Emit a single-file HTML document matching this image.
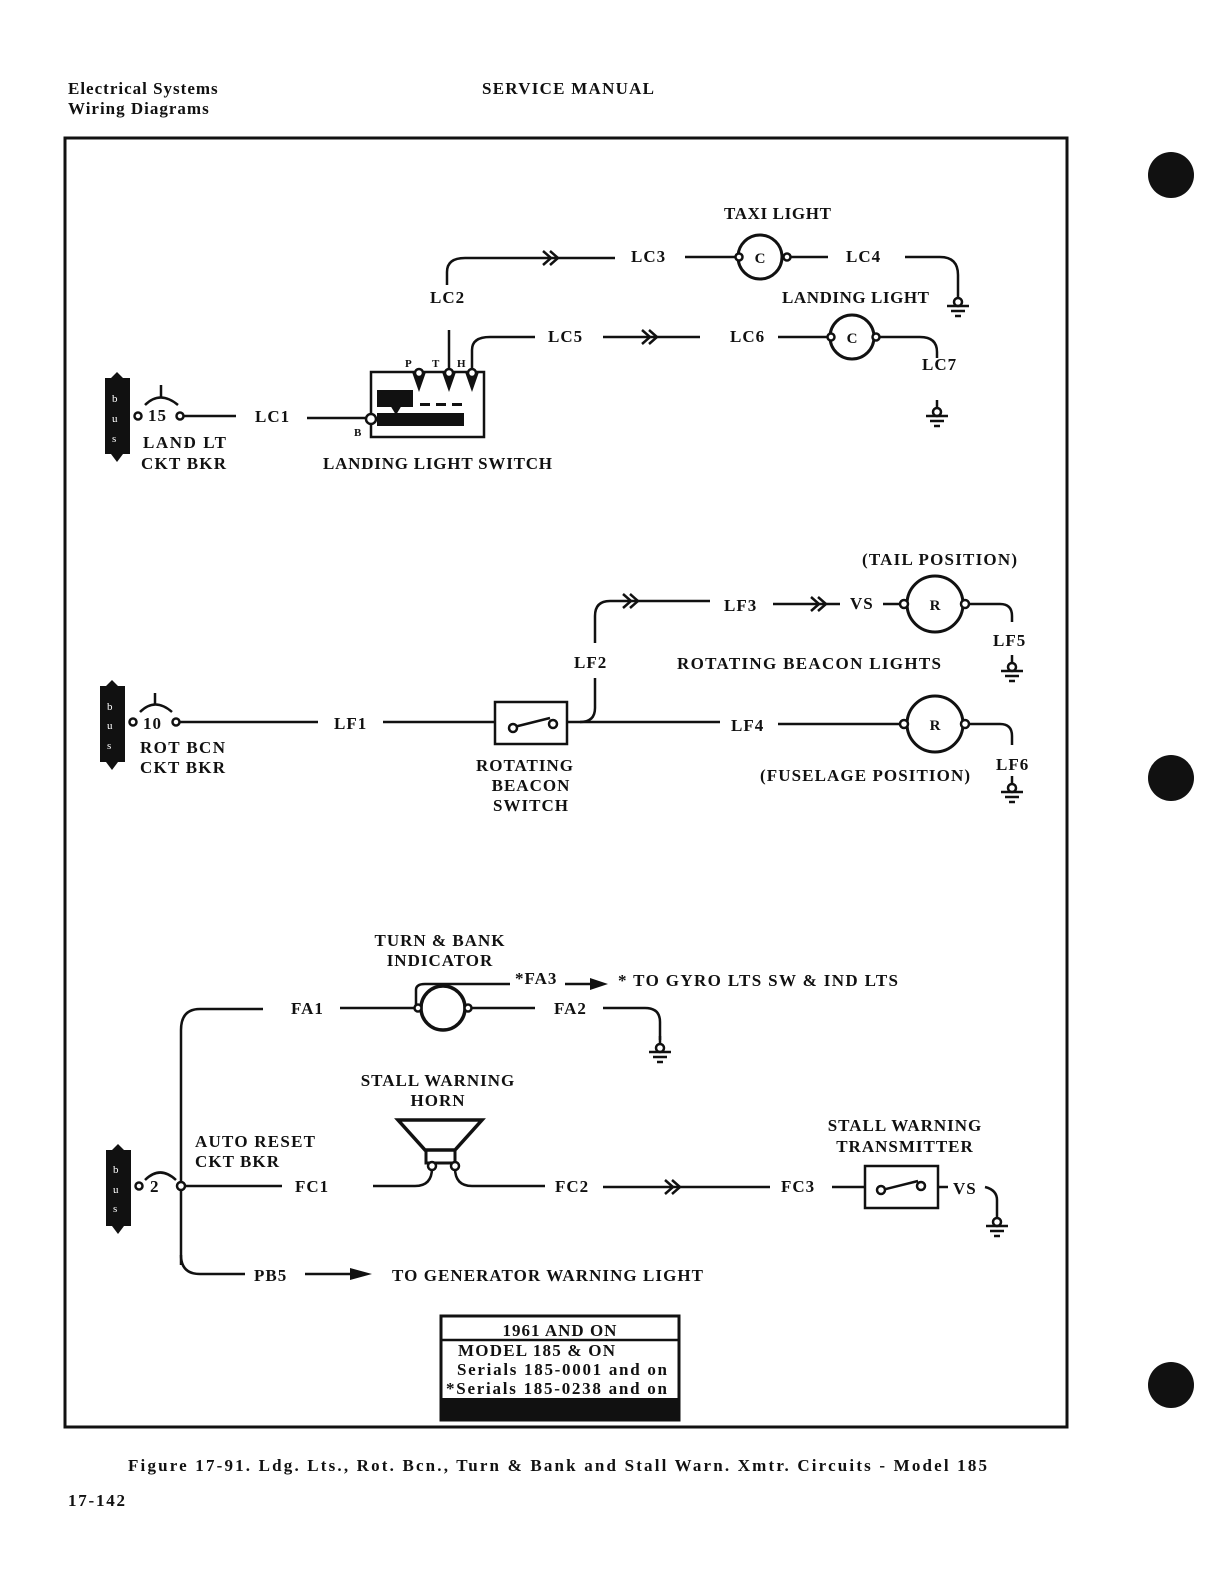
<!DOCTYPE html>
<html><head><meta charset="utf-8"><style>
html,body{margin:0;padding:0;background:#fff}
svg{display:block}
text{font-family:"Liberation Serif",serif;font-weight:bold;font-size:17px;fill:#111;letter-spacing:1px}
</style></head><body>
<svg width="1226" height="1580" viewBox="0 0 1226 1580" xmlns="http://www.w3.org/2000/svg">
<defs>
<g id="gnd" stroke="#111" stroke-width="2.5" fill="none">
<line x1="0" y1="0" x2="0" y2="8"/><circle cx="0" cy="12" r="4" fill="#fff"/>
<line x1="-11" y1="16" x2="11" y2="16"/><line x1="-7" y1="21" x2="7" y2="21"/><line x1="-3" y1="26" x2="3" y2="26"/>
</g>
<g id="dbl" stroke="#111" stroke-width="2.5" fill="none">
<polyline points="-10,-7 -2,0 -10,7"/><polyline points="-3,-7 5,0 -3,7"/>
</g>
<g id="bus">
<path d="M0,6 L6,6 L12,0 L18,6 L25,6 L25,82 L18,82 L12,90 L6,82 L0,82 Z" fill="#111"/>
</g>
</defs>
<g fill="none" stroke="#111" stroke-width="2.5">
<rect x="65" y="138" width="1002" height="1289" stroke-width="3"/>
</g>
<circle cx="1171" cy="175" r="23" fill="#111"/>
<circle cx="1171" cy="778" r="23" fill="#111"/>
<circle cx="1171" cy="1385" r="23" fill="#111"/>
<text x="68" y="94">Electrical Systems</text>
<text x="68" y="114">Wiring Diagrams</text>
<text x="482" y="94" textLength="173">SERVICE MANUAL</text>

<!-- TOP SECTION -->
<use href="#bus" x="105" y="372"/>
<text x="112" y="402" style="fill:#fff;font-size:11px;font-weight:normal">b</text>
<text x="112" y="422" style="fill:#fff;font-size:11px;font-weight:normal">u</text>
<text x="112" y="442" style="fill:#fff;font-size:11px;font-weight:normal">s</text>
<g fill="none" stroke="#111" stroke-width="2.5">
<path d="M145,405 Q160,390 178,405"/><line x1="161" y1="385" x2="161" y2="397"/>
<circle cx="138" cy="416" r="3.5" fill="#fff"/><circle cx="180" cy="416" r="3.5" fill="#fff"/>
<line x1="184" y1="416" x2="236" y2="416"/>
<line x1="307" y1="418" x2="366" y2="418"/>
<rect x="371" y="372" width="113" height="65"/>
<line x1="449" y1="330" x2="449" y2="372"/>
<path d="M472,372 L472,350 Q472,337 490,337 L535,337"/>
<path d="M447,285 L447,272 Q447,258 465,258 L615,258"/>
<line x1="685" y1="257" x2="738" y2="257"/>
<circle cx="760" cy="257" r="22" stroke-width="3"/>
<line x1="785" y1="257" x2="828" y2="257"/>
<path d="M905,257 L940,257 Q958,257 958,275 L958,290"/>
<line x1="603" y1="337" x2="700" y2="337"/>
<line x1="778" y1="337" x2="830" y2="337"/>
<circle cx="852" cy="337" r="22" stroke-width="3"/>
<path d="M877,337 L920,337 Q937,337 937,352 L937,358"/>
</g>
<g fill="#111">
<rect x="377" y="390" width="36" height="17"/>
<polygon points="390,405 402,405 396,415"/>
<rect x="377" y="413" width="87" height="13"/>
<polygon points="412,372 426,372 419,392"/><polygon points="442,372 456,372 449,392"/><polygon points="465,372 479,372 472,392"/>
<rect x="420" y="403" width="10" height="3"/><rect x="436" y="403" width="10" height="3"/><rect x="452" y="403" width="10" height="3"/>
</g>
<g fill="#fff" stroke="#111" stroke-width="2.5">
<circle cx="419" cy="373" r="4"/><circle cx="449" cy="373" r="4"/><circle cx="472" cy="373" r="4"/><circle cx="371" cy="419" r="5"/>
<circle cx="739" cy="257" r="3.5"/><circle cx="787" cy="257" r="3.5"/><circle cx="831" cy="337" r="3.5"/><circle cx="876" cy="337" r="3.5"/>
</g>
<text x="760" y="263" text-anchor="middle" style="font-size:15px;letter-spacing:0">C</text>
<text x="852" y="343" text-anchor="middle" style="font-size:15px;letter-spacing:0">C</text>
<use href="#dbl" x="553" y="258"/><use href="#dbl" x="652" y="337"/>
<use href="#gnd" x="958" y="290"/><use href="#gnd" x="937" y="400"/>
<text x="148" y="421">15</text>
<text x="255" y="422">LC1</text>
<text x="354" y="436" style="font-size:11px">B</text>
<text x="405" y="367" style="font-size:11px">P</text><text x="432" y="367" style="font-size:11px">T</text><text x="457" y="367" style="font-size:11px">H</text>
<text x="430" y="303">LC2</text>
<text x="631" y="262">LC3</text>
<text x="846" y="262">LC4</text>
<text x="724" y="219" textLength="108">TAXI LIGHT</text>
<text x="782" y="303" textLength="148">LANDING LIGHT</text>
<text x="548" y="342">LC5</text>
<text x="730" y="342">LC6</text>
<text x="922" y="370">LC7</text>
<text x="143" y="448" textLength="84">LAND LT</text>
<text x="141" y="469" textLength="86">CKT BKR</text>
<text x="323" y="469" textLength="230">LANDING LIGHT SWITCH</text>

<!-- MIDDLE SECTION -->
<use href="#bus" x="100" y="680"/>
<text x="107" y="710" style="fill:#fff;font-size:11px;font-weight:normal">b</text>
<text x="107" y="729" style="fill:#fff;font-size:11px;font-weight:normal">u</text>
<text x="107" y="749" style="fill:#fff;font-size:11px;font-weight:normal">s</text>
<g fill="none" stroke="#111" stroke-width="2.5">
<path d="M140,712 Q155,697 172,712"/><line x1="155" y1="693" x2="155" y2="704"/>
<circle cx="133" cy="722" r="3.5" fill="#fff"/><circle cx="176" cy="722" r="3.5" fill="#fff"/>
<line x1="180" y1="722" x2="318" y2="722"/>
<line x1="383" y1="722" x2="495" y2="722"/>
<rect x="495" y="702" width="72" height="42"/>
<line x1="514" y1="727" x2="550" y2="718"/>
<line x1="567" y1="722" x2="720" y2="722"/>
<path d="M580,722 Q595,722 595,708 L595,678"/>
<path d="M595,643 L595,616 Q595,601 610,601 L710,601"/>
<line x1="773" y1="604" x2="840" y2="604"/>
<line x1="883" y1="604" x2="905" y2="604"/>
<circle cx="935" cy="604" r="28" stroke-width="3"/>
<path d="M966,604 L1000,604 Q1012,604 1012,616 L1012,622"/>
<line x1="778" y1="724" x2="905" y2="724"/>
<circle cx="935" cy="724" r="28" stroke-width="3"/>
<path d="M966,724 L1000,724 Q1012,724 1012,736 L1012,745"/>
</g>
<g fill="#fff" stroke="#111" stroke-width="2.5">
<circle cx="513" cy="728" r="4"/><circle cx="553" cy="724" r="4"/>
<circle cx="904" cy="604" r="4"/><circle cx="965" cy="604" r="4"/><circle cx="904" cy="724" r="4"/><circle cx="965" cy="724" r="4"/>
</g>
<text x="935" y="610" text-anchor="middle" style="font-size:15px;letter-spacing:0">R</text>
<text x="935" y="730" text-anchor="middle" style="font-size:15px;letter-spacing:0">R</text>
<use href="#dbl" x="633" y="601"/><use href="#dbl" x="821" y="604"/>
<use href="#gnd" x="1012" y="655"/><use href="#gnd" x="1012" y="776"/>
<text x="143" y="729">10</text>
<text x="334" y="729">LF1</text>
<text x="140" y="753" textLength="86">ROT BCN</text>
<text x="140" y="773" textLength="86">CKT BKR</text>
<text x="525" y="771" text-anchor="middle">ROTATING</text>
<text x="531" y="791" text-anchor="middle">BEACON</text>
<text x="531" y="811" text-anchor="middle">SWITCH</text>
<text x="862" y="565" textLength="156">(TAIL POSITION)</text>
<text x="724" y="611">LF3</text>
<text x="850" y="609">VS</text>
<text x="993" y="646">LF5</text>
<text x="574" y="668">LF2</text>
<text x="677" y="669" textLength="265">ROTATING BEACON LIGHTS</text>
<text x="731" y="731">LF4</text>
<text x="760" y="781" textLength="211">(FUSELAGE POSITION)</text>
<text x="996" y="770">LF6</text>

<!-- BOTTOM SECTION -->
<use href="#bus" x="106" y="1144"/>
<text x="113" y="1173" style="fill:#fff;font-size:11px;font-weight:normal">b</text>
<text x="113" y="1193" style="fill:#fff;font-size:11px;font-weight:normal">u</text>
<text x="113" y="1212" style="fill:#fff;font-size:11px;font-weight:normal">s</text>
<g fill="none" stroke="#111" stroke-width="2.5">
<path d="M145,1180 Q160,1165 176,1180"/>
<path d="M181,1265 L181,1030 Q181,1009 200,1009 L263,1009"/>
<path d="M181,1255 Q181,1274 200,1274 L245,1274"/>
<line x1="305" y1="1274" x2="350" y2="1274"/>
<line x1="185" y1="1186" x2="282" y2="1186"/>
<line x1="340" y1="1008" x2="420" y2="1008"/>
<circle cx="443" cy="1008" r="22" stroke-width="3.5"/>
<line x1="470" y1="1008" x2="535" y2="1008"/>
<path d="M416,1008 L416,990 Q416,984 425,984 L510,984"/>
<line x1="565" y1="984" x2="590" y2="984"/>
<path d="M603,1008 L645,1008 Q660,1008 660,1022 L660,1040"/>
<polygon points="398,1120 482,1120 455,1150 425,1150" stroke-width="3.5"/>
<rect x="426" y="1150" width="29" height="13" stroke-width="3"/>
<path d="M432,1168 Q432,1186 415,1186 L373,1186"/>
<path d="M455,1168 Q455,1186 472,1186 L545,1186"/>
<line x1="603" y1="1187" x2="770" y2="1187"/>
<line x1="832" y1="1187" x2="865" y2="1187"/>
<rect x="865" y="1166" width="73" height="42"/>
<line x1="882" y1="1190" x2="918" y2="1181"/>
<line x1="938" y1="1187" x2="948" y2="1187"/>
<path d="M985,1187 Q997,1190 997,1200 L997,1210"/>
</g>
<polygon points="590,978 608,984 590,990" fill="#111"/>
<polygon points="350,1268 372,1274 350,1280" fill="#111"/>
<g fill="#fff" stroke="#111" stroke-width="2.5">
<circle cx="139" cy="1186" r="3.5"/><circle cx="181" cy="1186" r="4"/>
<circle cx="418" cy="1008" r="3.5"/><circle cx="468" cy="1008" r="3.5"/>
<circle cx="432" cy="1166" r="4"/><circle cx="455" cy="1166" r="4"/>
<circle cx="881" cy="1190" r="4"/><circle cx="921" cy="1186" r="4"/>
</g>
<use href="#dbl" x="675" y="1187"/>
<use href="#gnd" x="660" y="1036"/><use href="#gnd" x="997" y="1210"/>
<text x="150" y="1192">2</text>
<text x="440" y="946" text-anchor="middle">TURN &amp; BANK</text>
<text x="440" y="966" text-anchor="middle">INDICATOR</text>
<text x="291" y="1014">FA1</text>
<text x="515" y="984">*FA3</text>
<text x="618" y="986" textLength="281">* TO GYRO LTS SW &amp; IND LTS</text>
<text x="554" y="1014">FA2</text>
<text x="438" y="1086" text-anchor="middle">STALL WARNING</text>
<text x="438" y="1106" text-anchor="middle">HORN</text>
<text x="195" y="1147" textLength="121">AUTO RESET</text>
<text x="195" y="1167" textLength="85">CKT BKR</text>
<text x="295" y="1192">FC1</text>
<text x="555" y="1192">FC2</text>
<text x="781" y="1192">FC3</text>
<text x="953" y="1194">VS</text>
<text x="905" y="1131" text-anchor="middle">STALL WARNING</text>
<text x="905" y="1152" text-anchor="middle">TRANSMITTER</text>
<text x="254" y="1281">PB5</text>
<text x="392" y="1281" textLength="312">TO GENERATOR WARNING LIGHT</text>

<g fill="none" stroke="#111" stroke-width="3">
<rect x="441" y="1316" width="238" height="104"/>
<line x1="441" y1="1340" x2="679" y2="1340" stroke-width="2.5"/>
</g>
<rect x="441" y="1398" width="239" height="22" fill="#111"/>
<text x="560" y="1336" text-anchor="middle">1961 AND ON</text>
<text x="458" y="1356" textLength="158">MODEL 185 &amp; ON</text>
<text x="457" y="1375" textLength="211">Serials 185-0001 and on</text>
<text x="446" y="1394" textLength="222">*Serials 185-0238 and on</text>

<text x="128" y="1471" textLength="860">Figure 17-91.  Ldg. Lts., Rot. Bcn., Turn &amp; Bank and Stall Warn. Xmtr. Circuits - Model 185</text>
<text x="68" y="1506" textLength="58">17-142</text>
</svg>
</body></html>
